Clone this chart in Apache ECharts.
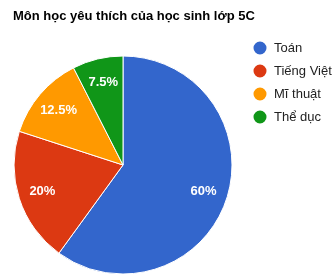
<!DOCTYPE html>
<html><head><meta charset="utf-8">
<script src="https://cdn.jsdelivr.net/npm/echarts@6/dist/echarts.min.js"></script>
<style>html,body{margin:0;padding:0;background:#fff}#c{width:335px;height:280px}</style>
</head><body><div id="c"></div>
<script>
const titleText = "Môn học yêu thích của học sinh lớp 5C";
const categories = ["Toán", "Tiếng Việt", "Mĩ thuật", "Thể dục"];
const values = [60, 20, 12.5, 7.5];
const colors = ["#3366cc", "#dc3912", "#ff9900", "#109618"];

const data = categories.map((n, i) => ({ name: n, value: values[i], itemStyle: { color: colors[i] } }));
const chart = echarts.init(document.getElementById('c'), null, { renderer: 'canvas' });
chart.setOption({
  animation: false,
  title: { text: titleText, left: 8, top: 5,
    textStyle: { fontFamily: 'Liberation Sans, Arial', fontSize: 13, fontWeight: 'bold', color: '#000' } },
  legend: {
    orient: 'vertical', left: 246.5, top: 34.5, icon: 'circle', itemWidth: 15, itemHeight: 15, itemGap: 6,
    textStyle: { fontFamily: 'Liberation Sans, Arial', fontSize: 13, color: '#222', lineHeight: 15, padding: [0,0,0,1.5] },
    data: categories
  },
  series: [
    { type: 'pie', center: [123, 165], radius: 109, startAngle: 90, clockwise: true,
      itemStyle: { borderColor: '#fff', borderWidth: 1 }, label: { show: false }, labelLine: { show: false },
      data: data, emphasis: { disabled: true } },
    { type: 'pie', center: [123, 165], radius: [54.5, 109], startAngle: 90, clockwise: true, silent: true,
      itemStyle: { color: 'transparent' }, labelLine: { show: false },
      label: { show: true, position: 'inside', formatter: p => p.value + '%', color: '#fff',
        fontFamily: 'Liberation Sans, Arial', fontSize: 13, fontWeight: 'bold' },
      data: categories.map((n, i) => ({ name: n, value: values[i] })), legendHoverLink: false,
      emphasis: { disabled: true } }
  ]
});
</script></body></html>
